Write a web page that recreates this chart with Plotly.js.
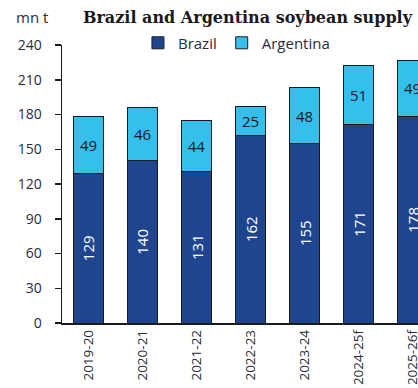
<!DOCTYPE html>
<html>
<head>
<meta charset="utf-8">
<script src="https://cdn.plot.ly/plotly-3.0.1.min.js"></script>
<style>html,body{margin:0;padding:0;background:#fff;}#chart{width:418px;height:388px;}</style>
</head>
<body>
<div id="chart"></div>
<script>
const categories = ["2019-20","2020-21","2021-22","2022-23","2023-24","2024-25f","2025-26f"];
const brazil = [129,140,131,162,155,171,178];
const argentina = [49,46,44,25,48,51,49];
const yTicks = [0,30,60,90,120,150,180,210,240];

const fontFam = "'Open Sans', 'Noto Sans', sans-serif";
const traces = [
  {
    type: 'bar', name: 'Brazil', x: categories, y: brazil,
    marker: {color: '#20458f', line: {color: '#1b1b1b', width: 1}},
    text: brazil.map(String), textposition: 'inside', insidetextanchor: 'middle',
    textangle: -90, textfont: {color: '#ffffff', size: 15, family: fontFam},
    hoverinfo: 'none'
  },
  {
    type: 'bar', name: 'Argentina', x: categories, y: argentina,
    marker: {color: '#35bfec', line: {color: '#1b1b1b', width: 1}},
    text: argentina.map(String), textposition: 'inside', insidetextanchor: 'middle',
    textangle: 0, textfont: {color: '#1a1a1a', size: 15, family: fontFam},
    hoverinfo: 'none'
  }
];

const layout = {
  width: 418, height: 388,
  margin: {l: 62, r: 0, t: 45, b: 65},
  barmode: 'stack', bargap: 0.43,
  paper_bgcolor: '#ffffff', plot_bgcolor: '#ffffff',
  font: {family: fontFam, color: '#2b2b3a', size: 14},
  title: {
    text: '<b>Brazil and Argentina soybean supply</b>',
    font: {family: "'DejaVu Serif', serif", size: 16, color: '#1a1a1a'},
    x: 0.592, xanchor: 'center', xref: 'container',
    y: 0.956, yanchor: 'middle', yref: 'container'
  },
  showlegend: true,
  legend: {
    orientation: 'h', x: 0.49, xanchor: 'center', y: 1.007, yanchor: 'middle',
    font: {size: 15, color: '#2b2b3a', family: fontFam},
    bgcolor: 'rgba(0,0,0,0)', traceorder: 'normal', itemwidth: 30
  },
  xaxis: {
    type: 'category', range: [-0.49, 6.10],
    tickangle: -90, tickfont: {size: 13.5, color: '#2b2b3a'},
    showline: true, linecolor: '#1a1a1a', linewidth: 1.5,
    ticks: '', showgrid: false, zeroline: false, fixedrange: true
  },
  yaxis: {
    range: [0, 240], tickvals: yTicks, ticktext: yTicks.map(String),
    tickfont: {size: 14, color: '#2b2b3a'},
    showline: true, linecolor: '#1a1a1a', linewidth: 1.5,
    ticks: 'outside', ticklen: 6, tickcolor: '#1a1a1a', tickwidth: 1.5,
    ticklabelstandoff: 10,
    showgrid: false, zeroline: false, fixedrange: true
  },
  annotations: [
    {text: 'mn t', xref: 'paper', yref: 'paper', x: -0.135, xanchor: 'left',
     y: 1.10, yanchor: 'middle', showarrow: false,
     font: {size: 15, color: '#2b2b3a', family: fontFam}}
  ]
};

Plotly.newPlot('chart', traces, layout, {displayModeBar: false, staticPlot: true});
</script>
</body>
</html>
